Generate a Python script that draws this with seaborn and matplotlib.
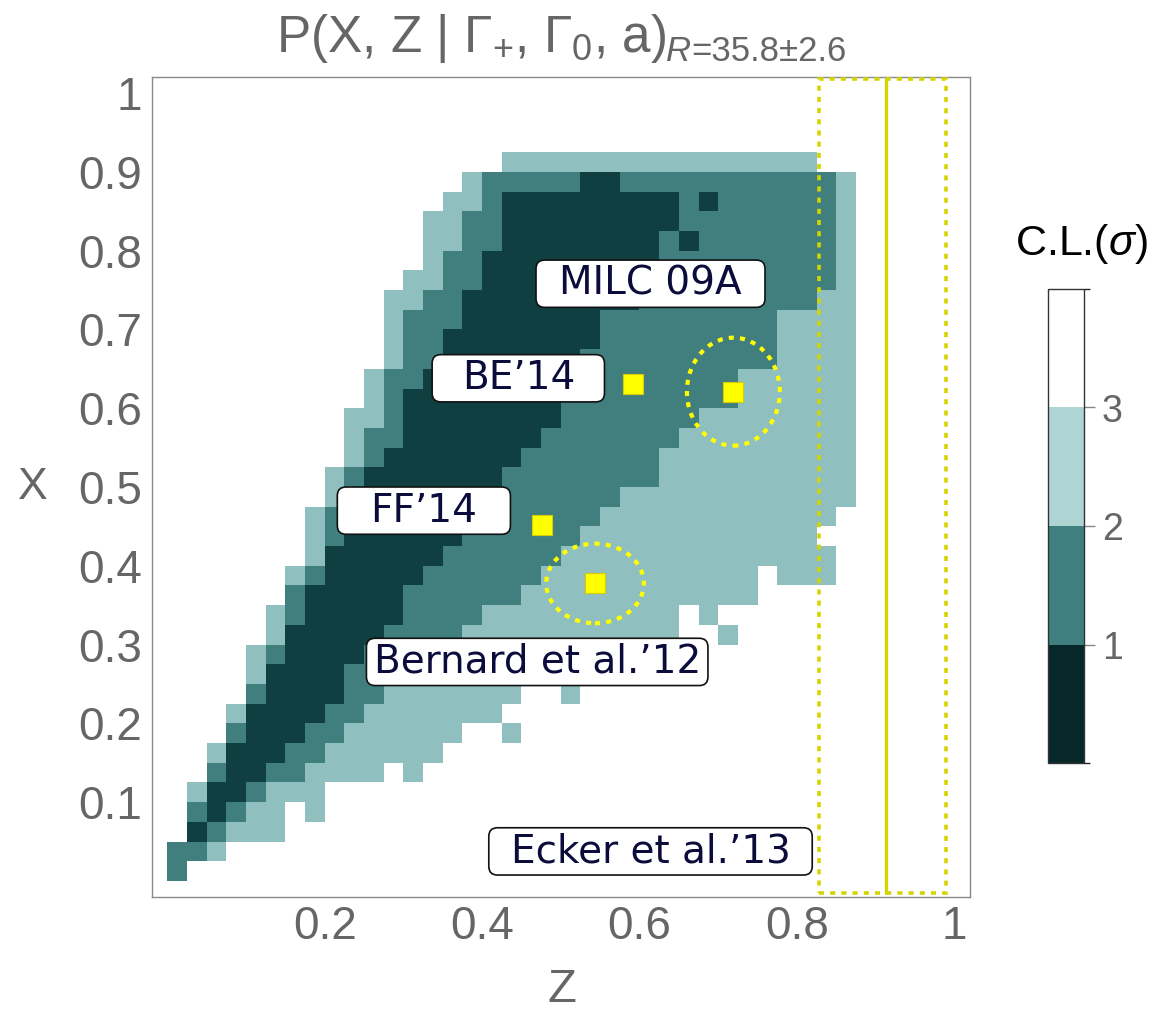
import numpy as np
import pandas as pd
import matplotlib
matplotlib.use("Agg")
import matplotlib.pyplot as plt
import seaborn as sns
from matplotlib.colors import ListedColormap, BoundaryNorm
from matplotlib.patches import Ellipse, Rectangle, FancyBboxPatch
from matplotlib.cm import ScalarMappable

# C.L. map, one string per row, top row (X 0.900-0.925) first,
# 35 cells of 0.025 in Z each.  d: <1 sigma, m: 1-2, l: 2-3, '.': >3
cl_rows = [
    "." * 17 + "l" * 16 + "." * 2,
    "." * 15 + "l" + "m" * 5 + "d" * 2 + "m" * 11 + "l",
    "." * 14 + "l" * 2 + "m" + "d" * 9 + "m" + "d" + "m" * 6 + "l",
    "." * 13 + "l" * 2 + "m" * 2 + "d" * 9 + "m" * 8 + "l",
    "." * 13 + "l" * 2 + "m" * 2 + "d" * 8 + "m" + "d" + "m" * 7 + "l",
    "." * 13 + "l" + "m" * 2 + "d" * 9 + "m" * 9 + "l",
    "." * 12 + "l" * 2 + "m" * 2 + "d" * 8 + "m" * 10 + "l",
    "." * 11 + "l" * 2 + "m" * 2 + "d" * 9 + "m" * 9 + "l" * 2,
    "." * 11 + "l" + "m" * 3 + "d" * 7 + "m" * 9 + "l" * 4,
    "." * 11 + "l" + "m" * 2 + "d" * 8 + "m" * 9 + "l" * 4,
    "." * 11 + "l" + "m" * 2 + "d" * 7 + "m" * 10 + "l" * 4,
    "." * 10 + "l" + "m" * 2 + "d" * 8 + "m" * 8 + "l" * 6,
    "." * 10 + "l" + "m" + "d" * 8 + "m" * 9 + "l" * 6,
    "." * 9 + "l" * 2 + "m" + "d" * 8 + "m" * 7 + "l" * 8,
    "." * 9 + "l" + "m" * 2 + "d" * 7 + "m" * 7 + "l" * 9,
    "." * 9 + "l" + "m" + "d" * 7 + "m" * 7 + "l" * 10,
    "." * 8 + "l" + "m" + "d" * 7 + "m" * 8 + "l" * 10,
    "." * 8 + "l" + "m" + "d" * 7 + "m" * 6 + "l" * 12,
    "." * 7 + "l" + "m" + "d" * 7 + "m" * 6 + "l" * 12 + ".",
    "." * 7 + "l" + "m" + "d" * 6 + "m" * 6 + "l" * 12 + "." * 2,
    "." * 7 + "l" + "d" * 6 + "m" * 6 + "l" * 14 + ".",
    "." * 6 + "l" + "m" + "d" * 5 + "m" * 6 + "l" * 11 + "." + "l" * 3 + ".",
    "." * 6 + "m" + "d" * 5 + "m" * 6 + "l" * 12 + "." * 5,
    "." * 5 + "l" + "m" + "d" * 5 + "m" * 4 + "l" * 10 + "." + "l" + "." * 7,
    "." * 5 + "l" + "d" * 5 + "m" * 4 + "l" * 11 + "." * 2 + "l" + "." * 6,
    "." * 4 + "l" + "m" + "d" * 4 + "m" * 4 + "l" * 9 + "." * 12,
    "." * 4 + "l" + "d" * 4 + "m" * 3 + "l" * 9 + "." * 14,
    "." * 4 + "m" + "d" * 4 + "m" * 2 + "l" * 7 + "." * 2 + "l" + "." * 14,
    "." * 3 + "l" + "d" * 4 + "m" * 2 + "l" * 7 + "." * 18,
    "." * 3 + "m" + "d" * 3 + "m" * 2 + "l" * 6 + "." * 2 + "l" + "." * 17,
    "." * 2 + "l" + "d" * 3 + "m" * 2 + "l" * 6 + "." * 21,
    "." * 2 + "m" + "d" * 2 + "m" * 2 + "l" * 4 + "." + "l" + "." * 22,
    "." + "l" + "d" * 2 + "m" + "l" * 3 + "." * 27,
    "." + "m" + "d" + "m" + "l" * 2 + "." + "l" + "." * 27,
    "." + "d" + "m" + "l" * 3 + "." * 29,
    "m" * 2 + "l" + "." * 32,
    "m" + "." * 34,
]
level_value = {"d": 0.5, "m": 1.5, "l": 2.5, ".": 3.5}
cell = 0.025

# lattice points and their error ellipses
pt_z = [0.5915, 0.7193, 0.4766, 0.5435]
pt_x = [0.631, 0.621, 0.4517, 0.3776]
ell_z = [0.7193, 0.5435]
ell_x = [0.621, 0.3776]
ell_w = [0.118, 0.124]
ell_h = [0.137, 0.101]

# Z band on the right
band_lo, band_mid, band_hi = 0.828, 0.913, 0.989

labels = ["MILC 09A", "BE\u201914", "FF\u201914", "Bernard et al.\u201912", "Ecker et al.\u201913"]
lab_z = [0.614, 0.446, 0.326, 0.470, 0.614]
lab_x = [0.758, 0.638, 0.470, 0.278, 0.0375]
lab_w = [0.291, 0.219, 0.220, 0.434, 0.411]

xtick_vals = [0.2, 0.4, 0.6, 0.8, 1.0]
xtick_text = ["0.2", "0.4", "0.6", "0.8", "1"]
ytick_vals = [0.1, 0.2, 0.3, 0.4, 0.5, 0.6, 0.7, 0.8, 0.9, 1.0]
ytick_text = ["0.1", "0.2", "0.3", "0.4", "0.5", "0.6", "0.7", "0.8", "0.9", "1"]

for r in cl_rows:
    assert len(r) == 35, r
grid = pd.DataFrame([[level_value[c] for c in r] for r in cl_rows])

sns.set_theme(style="white")
plt.rcParams['font.family'] = ['Liberation Sans', 'DejaVu Sans']
plt.rcParams['mathtext.fontset'] = 'custom'
plt.rcParams['mathtext.rm'] = 'Liberation Sans'
plt.rcParams['mathtext.it'] = 'Liberation Sans:italic'
plt.rcParams['mathtext.bf'] = 'Liberation Sans:bold'

W, H = 1155, 1021
fig = plt.figure(figsize=(W / 100, H / 100), dpi=100)
fig.patch.set_facecolor('white')

lo, hi = -0.02, 1.02
ax_l, ax_r, ax_t, ax_b = 151.6 / W, 970 / W, 1 - 77.3 / H, 1 - 896.7 / H
ax = fig.add_axes([ax_l, ax_b, ax_r - ax_l, ax_t - ax_b])


def fig_xy(z, x):
    return (ax_l + (z - lo) / (hi - lo) * (ax_r - ax_l),
            ax_b + (x - lo) / (hi - lo) * (ax_t - ax_b))


# heatmap in its own axes, laid exactly over the cells' Z/X extent
nz, nx = grid.shape[1], grid.shape[0]
x0, y0 = fig_xy(0, 0)
x1, y1 = fig_xy(nz * cell, nx * cell)
hax = fig.add_axes([x0, y0, x1 - x0, y1 - y0])
cmap = ListedColormap(['#0f3f40', '#417f7f', '#90bfbf', '#ffffff'])
sns.heatmap(grid, ax=hax, cmap=cmap, vmin=0, vmax=4, cbar=False,
            xticklabels=False, yticklabels=False)
hax.set_axis_off()
hax.set_zorder(0)
ax.set_zorder(1)
ax.patch.set_visible(False)

ax.set_xlim(lo, hi)
ax.set_ylim(lo, hi)

# band
dots = (0, (1.4, 1.7))
ax.add_patch(Rectangle((band_lo, -0.015), band_hi - band_lo, 1.033, fill=False,
                       ec='#d4d400', lw=2.6, ls=dots, zorder=3))
ax.plot([band_mid, band_mid], [-0.015, 1.018], color='#d4d400', lw=2.4, zorder=3)

for z, x, w, h in zip(ell_z, ell_x, ell_w, ell_h):
    ax.add_patch(Ellipse((z, x), w, h, fill=False, ec='#ffff00', lw=3,
                         ls=(0, (1.2, 1.5)), zorder=4))
sns.scatterplot(x=pt_z, y=pt_x, marker='s', s=200, color='#ffff00',
                edgecolor='#d8cc00', linewidth=0.8, ax=ax, zorder=5, legend=False)

box_h = 0.060
for t, z, x, w in zip(labels, lab_z, lab_x, lab_w):
    ax.add_patch(FancyBboxPatch((z - w / 2, x - box_h / 2), w, box_h,
                                boxstyle="round,pad=0,rounding_size=0.011",
                                fc='white', ec='#111111', lw=1.2, zorder=6))
    ax.text(z, x, t, ha='center', va='center', fontsize=28, color='#0b0b3c',
            family=['DejaVu Sans'], zorder=7)

ax.set_xticks(xtick_vals)
ax.set_xticklabels(xtick_text)
ax.set_yticks(ytick_vals)
ax.set_yticklabels(ytick_text)
ax.tick_params(axis='both', direction='in', length=6.5, width=1, color='#8a8a8a',
               labelcolor='#666666', labelsize=33)
ax.tick_params(axis='x', pad=6)
ax.tick_params(axis='y', pad=7)
for s in ax.spines.values():
    s.set_color('#8a8a8a')
    s.set_linewidth(1)
    s.set_visible(True)
ax.grid(False)

# title: main part plus a tight subscript, centred together over the plot
renderer = fig.canvas.get_renderer()
t_main = fig.text(0, 1 - 52 / H, r'P(X, Z | $\Gamma_{+}$, $\Gamma_{0}$, a)',
                  ha='left', va='baseline', fontsize=37, color='#666666')
t_r = fig.text(0, 1 - 61 / H, 'R', ha='left', va='baseline', fontsize=25,
               style='italic', color='#666666')
t_rest = fig.text(0, 1 - 61 / H, '=35.8\u00b12.6', ha='left', va='baseline',
                  fontsize=25, color='#666666')
parts = [t_main, t_r, t_rest]
widths = [p.get_window_extent(renderer).width for p in parts]
x_px = 561 - sum(widths) / 2
for p, w in zip(parts, widths):
    p.set_x(x_px / W)
    x_px += w

fig.text(33 / W, 1 - 487 / H, 'X', ha='center', va='center', fontsize=32, color='#666666')
fig.text(562 / W, 1 - 990 / H, 'Z', ha='center', va='center', fontsize=34, color='#666666')

# colour bar
cax = fig.add_axes([1048 / W, 1 - 763 / H, 36 / W, 474 / H])
cb_cmap = ListedColormap(['#072828', '#407f7f', '#aed4d4', '#ffffff'])
cb = fig.colorbar(ScalarMappable(norm=BoundaryNorm([0, 1, 2, 3, 4], 4), cmap=cb_cmap),
                  cax=cax, ticks=[1, 2, 3])
cb.ax.set_yticklabels(['1', '2', '3'])
cb.outline.set_edgecolor('#333333')
cb.outline.set_linewidth(1)
cax.tick_params(length=8, width=1, color='#888888', labelsize=27,
                labelcolor='#666666', pad=5)
fig.text(1081 / W, 1 - 244 / H, r'C.L.($\sigma$)', ha='center', va='center',
         fontsize=31, color='black')

fig.savefig('out.png', dpi=100, facecolor='white')
